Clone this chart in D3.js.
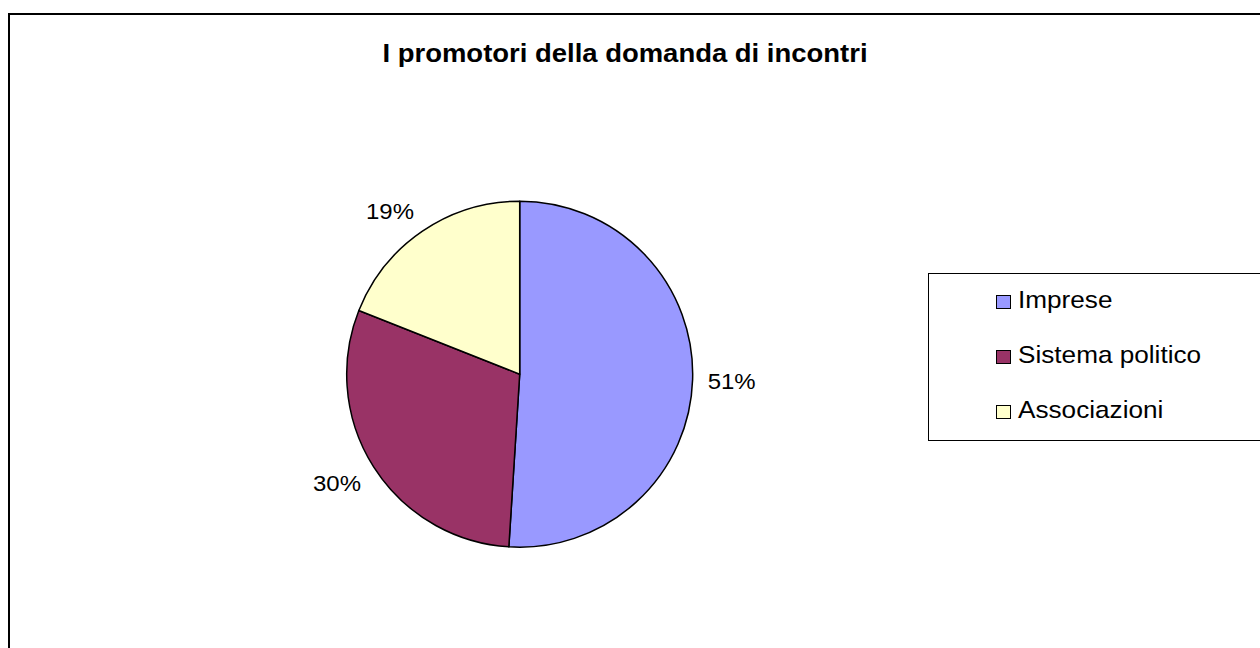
<!DOCTYPE html>
<html>
<head>
<meta charset="utf-8">
<script src="https://cdn.jsdelivr.net/npm/d3@7"></script>
<style>
  html, body { margin: 0; padding: 0; background: #fff; }
  svg { display: block; }
  text { font-family: "Liberation Sans", Arial, sans-serif; fill: #000; }
</style>
</head>
<body>
<svg id="chart" width="1260" height="648"></svg>
<script>
// Chart data
const title = "I promotori della domanda di incontri";
const categories = ["Imprese", "Sistema politico", "Associazioni"];
const values = [51, 30, 19];
const colors = ["#9999FF", "#993366", "#FFFFCC"];

const W = 1260, H = 648;
const stretch = 1.09; // horizontal glyph stretch used for all text
const svg = d3.select("#chart");

// Outer chart frame (extends beyond the visible area on the right and bottom)
svg.append("rect")
  .attr("x", 9).attr("y", 14)
  .attr("width", W + 40).attr("height", H + 40)
  .attr("fill", "#fff")
  .attr("stroke", "#000")
  .attr("stroke-width", 2);

// Title
svg.append("text")
  .attr("transform", `translate(625,62) scale(${stretch},1)`)
  .attr("text-anchor", "middle")
  .style("font-weight", "bold")
  .style("font-size", "25.2px")
  .text(title);

// Pie
const cx = 519.7, cy = 374.2, radius = 173;
const pie = d3.pie().sort(null).value(d => d)(values);
const arc = d3.arc().innerRadius(0).outerRadius(radius);
const g = svg.append("g").attr("transform", `translate(${cx},${cy})`);

g.selectAll("path.slice")
  .data(pie)
  .join("path")
  .attr("class", "slice")
  .attr("d", arc)
  .attr("fill", (d, i) => colors[i])
  .attr("stroke", "#000")
  .attr("stroke-width", 1.5)
  .attr("stroke-linejoin", "round");

// Percentage labels: the label box sits just outside the rim, on the
// slice's mid-angle, pushed away from the pie by its own half extents
const total = d3.sum(values);
const labelFont = 22;
const labelH = 16;
const labelR = 188;
const soft = v => Math.max(-1, Math.min(1, v * 3));
g.selectAll("text.pct")
  .data(pie)
  .join("text")
  .attr("class", "pct")
  .style("font-size", labelFont + "px")
  .attr("text-anchor", "middle")
  .text(d => Math.round(d.data / total * 100) + "%")
  .attr("transform", function (d) {
    const a = (d.startAngle + d.endAngle) / 2;
    const dx = Math.sin(a), dy = -Math.cos(a);
    const w = this.getComputedTextLength() * stretch;
    const x = dx * labelR + soft(dx) * w / 2;
    const y = dy * labelR + soft(dy) * labelH / 2 + labelH / 2;
    return `translate(${x},${y}) scale(${stretch},1)`;
  });

// Legend
const legendX = 928.5, legendY = 273.5;
svg.append("rect")
  .attr("x", legendX).attr("y", legendY)
  .attr("width", 400).attr("height", 167)
  .attr("fill", "#fff")
  .attr("stroke", "#000")
  .attr("stroke-width", 1);

const legendStep = 55;
const item = svg.append("g").selectAll("g")
  .data(categories)
  .join("g")
  .attr("transform", (d, i) => `translate(0,${308 + i * legendStep})`);

item.append("rect")
  .attr("x", 996.5).attr("y", -12.5)
  .attr("width", 14).attr("height", 13)
  .attr("fill", (d, i) => colors[i])
  .attr("stroke", "#000")
  .attr("stroke-width", 1);

item.append("text")
  .attr("transform", `translate(1018,0) scale(${stretch},1)`)
  .style("font-size", "24px")
  .text(d => d);
</script>
</body>
</html>
